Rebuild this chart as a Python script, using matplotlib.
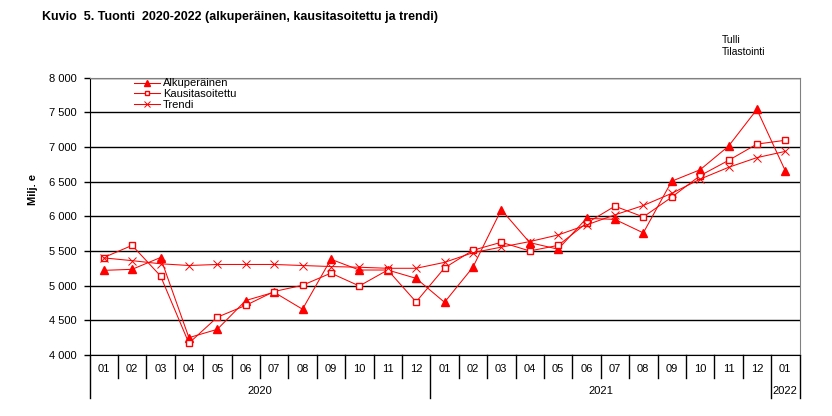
import matplotlib
matplotlib.use('Agg')
import matplotlib.pyplot as plt
import matplotlib.transforms as mtransforms
from matplotlib import font_manager

# categories
months = ['01', '02', '03', '04', '05', '06', '07', '08', '09', '10', '11', '12',
          '01', '02', '03', '04', '05', '06', '07', '08', '09', '10', '11', '12',
          '01']
years = ['2020', '2021', '2022']
year_lengths = [12, 12, 1]

# values, milj. e
alkuperainen = [5220, 5235, 5405, 4250, 4370, 4785, 4905, 4660, 5380, 5225, 5225, 5105,
                4760, 5265, 6095, 5620, 5525, 5970, 5955, 5760, 6505, 6670, 7010, 7540,
                6655]
kausitasoitettu = [5405, 5580, 5140, 4170, 4545, 4715, 4915, 5005, 5180, 4995, 5225, 4765,
                   5255, 5510, 5625, 5500, 5580, 5900, 6145, 5990, 6275, 6585, 6805, 7040,
                   7095]
trendi = [5400, 5360, 5315, 5290, 5305, 5305, 5305, 5290, 5275, 5265, 5250, 5250,
          5335, 5475, 5555, 5635, 5730, 5875, 6020, 6155, 6330, 6535, 6705, 6845,
          6935]

title = 'Kuvio  5. Tuonti  2020-2022 (alkuperäinen, kausitasoitettu ja trendi)'


def pick_font(names):
    for n in names:
        try:
            font_manager.findfont(n, fallback_to_default=False)
            return n
        except Exception:
            pass
    return 'DejaVu Sans'


base_font = pick_font(['Liberation Sans', 'Arial', 'DejaVu Sans'])
narrow_font = pick_font(['Liberation Sans Narrow', 'Arial Narrow', 'Liberation Sans'])
plt.rcParams['font.family'] = [base_font, 'DejaVu Sans']

W, H = 832, 416
fig = plt.figure(figsize=(W / 100, H / 100), dpi=100)
left, right, top, bottom = 89.5, 799.5, 77.5, 355
ax = fig.add_axes([left / W, 1 - bottom / H, (right - left) / W, (bottom - top) / H])

red = '#ff0000'
x = list(range(len(months)))
ax.plot(x, alkuperainen, color=red, lw=0.75, marker='^', ms=5.5, mfc=red, mec=red,
        label='Alkuperäinen', zorder=3)
ax.plot(x, kausitasoitettu, color=red, lw=0.75, marker='s', ms=4.8, mfc='white', mec=red,
        mew=1.0, label='Kausitasoitettu', zorder=4)
ax.plot(x, trendi, color=red, lw=0.75, marker='x', ms=6, mew=0.7, label='Trendi', zorder=5)

ax.set_xlim(-0.5, len(months) - 0.5)
ax.set_ylim(4000, 8000)
ax.set_yticks(range(4000, 8001, 500))
ax.set_yticklabels([f'{v:,}'.replace(',', ' ') for v in range(4000, 8001, 500)], fontsize=8)
ax.tick_params(axis='y', direction='out', length=4, width=1, color='black', pad=5)
ax.set_xticks([])
ax.yaxis.grid(True, color='black', lw=1)
ax.set_axisbelow(True)
ax.spines['top'].set_color('#808080')
ax.spines['right'].set_color('#808080')
ax.spines['left'].set_color('black')
ax.spines['bottom'].set_color('black')

# two-level category axis
trans = mtransforms.blended_transform_factory(ax.transData, ax.transAxes)
axis_h = bottom - top
short_y = -(377.7 - bottom) / axis_h
long_y = -(398 - bottom) / axis_h
month_y = -(369 - bottom) / axis_h
year_y = -(390.5 - bottom) / axis_h

boundaries = [0]
for n in year_lengths:
    boundaries.append(boundaries[-1] + n)
for i in range(len(months) + 1):
    y_end = long_y if i in boundaries else short_y
    ax.plot([i - 0.5, i - 0.5], [0, y_end], color='black', lw=1,
            transform=trans, clip_on=False)
for i, m in enumerate(months):
    ax.text(i, month_y, m, transform=trans, ha='center', va='center', fontsize=8)
for yr, a, b in zip(years, boundaries[:-1], boundaries[1:]):
    ax.text((a + b - 1) / 2, year_y, yr, transform=trans, ha='center', va='center',
            fontsize=8)

ax.legend(loc='upper left', bbox_to_anchor=(134 / W, 1 - 78.5 / H),
          bbox_transform=fig.transFigure, frameon=False, fontsize=8,
          handlelength=2.3, handletextpad=0.3, labelspacing=0.05,
          borderpad=0, borderaxespad=0, markerscale=0.75)

fig.text(42 / W, 1 - 17 / H, title, fontsize=9, fontweight='bold',
         family=[narrow_font, 'DejaVu Sans'], ha='left', va='center')
fig.text(722 / W, 1 - 40 / H, 'Tulli', fontsize=7.5, ha='left', va='center')
fig.text(722 / W, 1 - 52 / H, 'Tilastointi', fontsize=7.5, ha='left', va='center')
fig.text(33 / W, 1 - 189 / H, 'Milj. e', fontsize=8, fontweight='bold',
         rotation=90, ha='center', va='center')

fig.savefig('out.png', dpi=100)
